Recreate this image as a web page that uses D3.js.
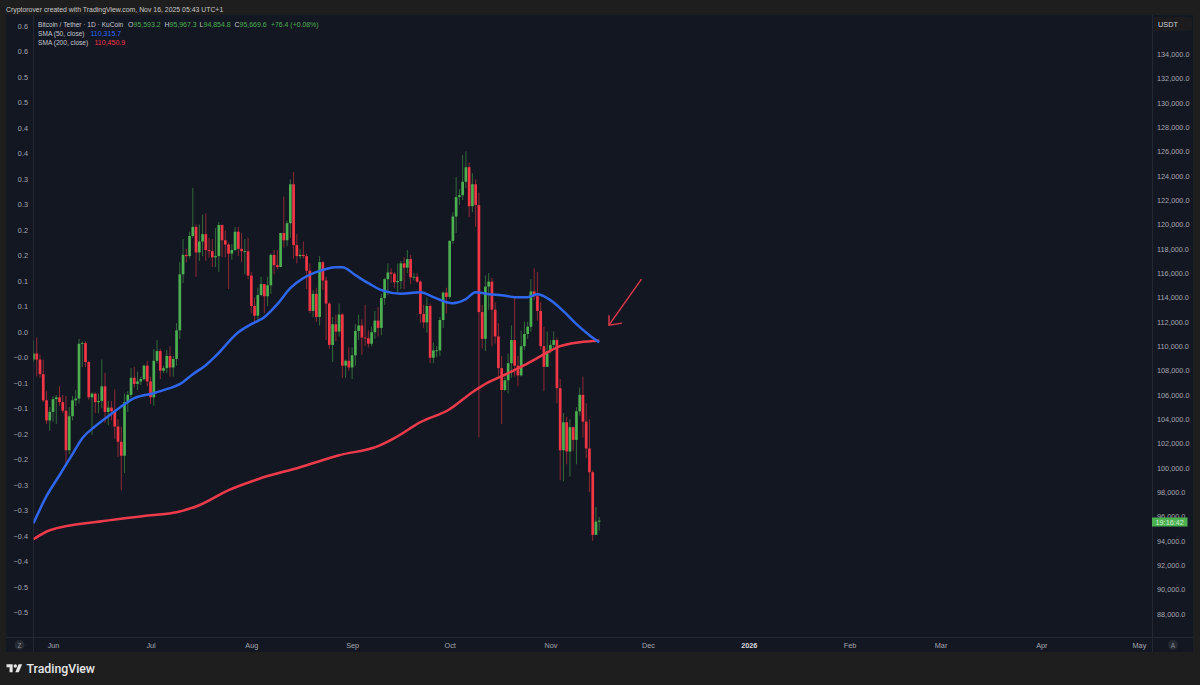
<!DOCTYPE html>
<html>
<head>
<meta charset="utf-8">
<script src="https://cdn.jsdelivr.net/npm/d3@7"></script>
<style>
  html, body { margin: 0; background: #1e1e1e; }
  svg { display: block; }
  text { font-family: "Liberation Sans", sans-serif; }
</style>
</head>
<body>
<div id="chart-container"></div>
<script>
// First candle is May 26 2025, one candle per day
const firstDay = new Date(Date.UTC(2025, 4, 26));

const opens = [
  108900,109400,108900,107700,105550,103900,
  104600,105650,105800,105400,104700,101450,104250,105550,105700,110200,110250,108700,105800,106100,105400,105500,106700,104600,104950,104650,103400,102150,101000,105400,106000,107400,106900,107100,107300,108400,
  107100,105800,108800,109600,107990,108200,109200,108250,108950,111300,115900,117500,117400,119050,119800,117700,118600,119200,117900,117800,117300,117400,119950,118700,118350,117600,117900,119400,118000,117800,117800,
  115800,113300,112500,114200,115100,114100,115000,117500,116650,116500,119300,118700,120100,123300,118300,117400,117500,117400,116200,112900,114300,112400,116900,115400,113500,110100,111800,111200,112600,108400,108800,
  108250,109250,111250,111700,110700,110650,110200,111150,112100,111500,113950,115500,116050,115950,115250,115350,116800,116450,117150,115650,115700,115300,112650,111950,113300,109050,109650,109650,112150,114400,
  114050,118650,120650,122250,122400,123500,124700,121500,123300,121600,112800,110600,114900,115300,113000,110800,108200,106400,107200,108600,110500,108400,107600,110000,111000,111600,114500,114100,112900,110000,108300,
  109600,110100,110500,106550,101450,103750,101350,103350,102300,104650,106000,103800,101600,99650,94500,95593
];
const closes = [
  109400,108900,107700,105550,103900,104600,
  105650,105800,105400,104700,101450,104250,105550,105700,110200,110250,108700,105800,106100,105400,105500,106700,104600,104950,104650,103400,102150,101000,105400,106000,107400,106900,107100,107300,108400,107100,
  105800,108800,109600,107990,108200,109200,108250,108950,111300,115900,117500,117400,119050,119800,117700,118600,119200,117900,117800,117300,117400,119950,118700,118350,117600,117900,119400,118000,117800,117800,115800,
  113300,112500,114200,115100,114100,115000,117500,116650,116500,119300,118700,120100,123300,118300,117400,117500,117400,116200,112900,114300,112400,116900,115400,113500,110100,111800,111200,112600,108400,108800,108250,
  109250,111250,111700,110700,110650,110200,111150,112100,111500,113950,115500,116050,115950,115250,115350,116800,116450,117150,115650,115700,115300,112650,111950,113300,109050,109650,109650,112150,114400,114050,
  118650,120650,122250,122400,123500,124700,121500,123300,121600,112800,110600,114900,115300,113000,110800,108200,106400,107200,108600,110500,108400,107600,110000,111000,111600,114500,114100,112900,110000,108300,109600,
  110100,110500,106550,101450,103750,101350,103350,102300,104650,106000,103800,101600,99650,94500,95593,95670
];
const highs = [
  110400,110700,109300,108900,106300,105000,
  105900,106000,106700,106000,105900,105000,105900,106400,110600,110400,110400,108800,106200,106200,106100,108900,107800,105500,105500,106450,104000,103400,106100,106300,108200,108300,107900,107500,108500,108800,
  107500,109750,110500,109800,108400,109700,110000,109200,111900,116900,118800,118000,119400,123000,120000,120000,120800,120900,118900,118800,119700,120200,120000,119500,118500,118400,119800,119800,119300,118800,118900,
  116100,114000,114800,115700,115100,115700,117600,117900,117900,119300,122300,120300,123700,124300,119200,118000,118600,117600,116800,114600,114800,117400,117000,115700,113600,112400,112600,113500,112700,108900,109900,
  109900,111800,112600,112200,113400,111300,111600,112900,113200,114300,115600,116800,116400,116100,116800,117000,117300,117900,117500,116000,116000,115400,113400,114000,113500,110300,110000,112400,114500,114800,
  118700,121000,123900,122900,125700,126000,125100,124200,123700,122600,113400,115800,116000,115600,113600,111900,109200,107500,109400,111700,114000,109200,111300,112000,112000,115500,116400,116100,113600,111600,111200,
  110500,111200,110700,107300,104500,104200,104000,103400,105000,106600,107500,105300,104000,99800,96800,95967
];
const lows = [
  108700,107500,107400,105400,103600,103050,
  103800,103600,105100,104500,100400,101100,103900,105100,105300,108300,108300,105600,102700,104500,104500,104900,103700,103500,103900,102400,100900,98150,99600,104600,105800,106600,106400,106800,107200,106700,
  105250,105100,108600,107300,107800,107800,107500,107500,108400,110600,115200,116900,117200,118900,115700,117000,117400,117000,117300,116500,116500,116100,117300,117300,114700,117100,117800,117400,116900,115900,115500,
  112700,112000,111900,114100,112700,113300,114300,115900,116300,116500,118100,118200,118900,117200,116800,117200,117200,114700,112700,112400,112000,111700,114600,110500,109800,108700,110400,110800,107400,107400,108000,
  107300,108400,110500,109300,110000,109900,110000,110600,110800,110900,113400,114200,115200,114800,114400,114700,114700,116000,115100,115400,115200,111900,111500,111100,108600,108600,109100,109200,111500,112700,
  113900,118400,119300,121600,122000,123000,120600,121000,119800,102500,109800,109600,113000,110000,110200,107500,103600,106300,106100,107400,107500,106700,107500,109700,110600,111200,113800,112100,109700,106300,108300,
  109400,109700,105300,99000,98900,100300,99300,101400,100300,104300,102500,100800,98000,94000,94900,94854
];

// SMA lines: candle index and price
const sma50Days = [0,4,8,12,15,19,23,28,31,37,41,45,49,53,56,63,67,71,75,79,83,87,93,95,99,103,107,113,119,123,127,129,133,136,140,144,148,152,155,159,163,167,171,174];
const sma50 = [95456,97675,99400,101126,102440,103426,104248,105234,105727,106138,106467,106877,107699,108439,109178,111150,111808,112383,113451,114766,115588,116081,116492,116492,115834,115177,114602,114314,114437,114026,113615,113533,113862,114437,114273,114191,114026,114026,114273,113780,112876,111808,110904,110316];
const sma200Days = [0,5,21,36,44,51,60,69,82,94,106,111,119,128,135,140,144,151,156,162,168,174];
const sma200 = [94141,94880,95620,96113,96360,96935,98167,99071,100057,101044,101783,102440,103755,104823,106220,107042,107535,108439,109178,110000,110329,110451];

// hand drawn arrow, candle index and price
const arrowDays = [187, 177.7];
const arrowPrices = [115505, 111726];
const arrowHeadDays = [177.1, 177.7, 181.4];
const arrowHeadPrices = [112547, 111726, 111890];

const monthTicks = [
  [Date.UTC(2025, 5, 1), "Jun"], [Date.UTC(2025, 6, 1), "Jul"], [Date.UTC(2025, 7, 1), "Aug"],
  [Date.UTC(2025, 8, 1), "Sep"], [Date.UTC(2025, 9, 1), "Oct"], [Date.UTC(2025, 10, 1), "Nov"],
  [Date.UTC(2025, 11, 1), "Dec"], [Date.UTC(2026, 0, 1), "2026"], [Date.UTC(2026, 1, 1), "Feb"],
  [Date.UTC(2026, 2, 1), "Mar"], [Date.UTC(2026, 3, 1), "Apr"], [Date.UTC(2026, 4, 1), "May"]
];
const priceTicks = d3.range(88000, 136000, 2000);
const leftTicks = [0.6,0.55,0.5,0.45,0.4,0.35,0.3,0.25,0.2,0.15,0.1,0.05,0,-0.05,-0.1,-0.15,-0.2,-0.25,-0.3,-0.35,-0.4,-0.45,-0.5,-0.55];
const leftLabels = ["0.6","0.6","0.5","0.5","0.4","0.4","0.3","0.3","0.2","0.2","0.1","0.1","0.0","\u22120.0","\u22120.1","\u22120.1","\u22120.2","\u22120.2","\u22120.3","\u22120.3","\u22120.4","\u22120.4","\u22120.5","\u22120.5"];

const width = 1200;
const height = 685;
const panel = { left: 6, right: 1193, top: 15, bottom: 652 };
const plot = { left: 33.5, right: 1152.5, bottom: 637.5 };

const upColor = "#4caf50";
const downColor = "#f23645";
const axisColor = "#a3a6af";

const svg = d3.select("#chart-container")
    .append("svg")
    .attr("width", width)
    .attr("height", height);

svg.append("rect")
    .attr("width", width)
    .attr("height", height)
    .attr("fill", "#1e1e1e");

svg.append("text")
    .attr("x", 6)
    .attr("y", 12)
    .attr("fill", "#c9c9c9")
    .attr("font-size", 6.9)
    .text("Cryptorover created with TradingView.com, Nov 16, 2025 05:43 UTC+1");

svg.append("rect")
    .attr("x", panel.left)
    .attr("y", panel.top)
    .attr("width", panel.right - panel.left)
    .attr("height", panel.bottom - panel.top)
    .attr("fill", "#131722");

// Scales
const x = d3.scaleUtc()
    .domain([Date.UTC(2025, 5, 1), Date.UTC(2026, 4, 1)])
    .range([53, 1138.9]);
const y = d3.scaleLinear().domain([134000, 88000]).range([54, 614]);
const yLeft = d3.scaleLinear().domain([0.6, -0.55]).range([26, 612.5]);

const dayX = i => x(d3.utcDay.offset(firstDay, i));

svg.append("defs").append("clipPath")
    .attr("id", "plot-clip")
    .append("rect")
    .attr("x", plot.left)
    .attr("y", panel.top)
    .attr("width", plot.right - plot.left)
    .attr("height", plot.bottom - panel.top);

// Panel dividers
const lineColor = "#242833";
svg.append("line").attr("x1", plot.left).attr("x2", plot.left).attr("y1", panel.top).attr("y2", panel.bottom).attr("stroke", lineColor);
svg.append("line").attr("x1", plot.right).attr("x2", plot.right).attr("y1", panel.top).attr("y2", panel.bottom).attr("stroke", lineColor);
svg.append("line").attr("x1", panel.left).attr("x2", panel.right).attr("y1", plot.bottom).attr("y2", plot.bottom).attr("stroke", lineColor);

const chart = svg.append("g").attr("clip-path", "url(#plot-clip)");

// Candles
const candles = chart.selectAll(".candle")
    .data(opens.map((o, i) => i))
    .enter()
    .append("g")
    .attr("class", "candle");

candles.append("line")
    .attr("x1", i => dayX(i))
    .attr("x2", i => dayX(i))
    .attr("y1", i => y(highs[i]))
    .attr("y2", i => y(lows[i]))
    .attr("stroke", i => closes[i] >= opens[i] ? upColor : downColor)
    .attr("stroke-width", 1)
    .attr("stroke-opacity", 0.55);

candles.append("rect")
    .attr("x", i => dayX(i) - 1.35)
    .attr("width", 2.7)
    .attr("y", i => y(Math.max(opens[i], closes[i])))
    .attr("height", i => Math.max(0.8, Math.abs(y(opens[i]) - y(closes[i]))))
    .attr("fill", i => closes[i] >= opens[i] ? upColor : downColor);

// Moving averages
const smaLine = d3.line()
    .x(d => dayX(d[0]))
    .y(d => y(d[1]))
    .curve(d3.curveMonotoneX);

chart.append("path")
    .attr("d", smaLine(d3.zip(sma200Days, sma200)))
    .attr("fill", "none")
    .attr("stroke", "#ee3b4b")
    .attr("stroke-width", 2.5);

chart.append("path")
    .attr("d", smaLine(d3.zip(sma50Days, sma50)))
    .attr("fill", "none")
    .attr("stroke", "#2f66ee")
    .attr("stroke-width", 2.5);

// Arrow annotation
const arrowLine = d3.line().x(d => dayX(d[0])).y(d => y(d[1]));
[d3.zip(arrowDays, arrowPrices), d3.zip(arrowHeadDays, arrowHeadPrices)].forEach(pts => {
    chart.append("path")
        .attr("d", arrowLine(pts))
        .attr("fill", "none")
        .attr("stroke", "#e0394a")
        .attr("stroke-width", 1.4);
});

// Axes
const styleAxis = g => {
    g.select(".domain").remove();
    g.selectAll("text").attr("fill", axisColor).attr("font-size", 7.3);
};

svg.append("g")
    .attr("transform", `translate(28,0)`)
    .call(d3.axisLeft(yLeft).tickValues(leftTicks).tickSize(0).tickPadding(0)
        .tickFormat((d, i) => leftLabels[i]))
    .call(styleAxis);

svg.append("g")
    .attr("transform", `translate(1157,0)`)
    .call(d3.axisRight(y).tickValues(priceTicks).tickSize(0).tickPadding(0)
        .tickFormat(d3.format(",.1f")))
    .call(styleAxis);

svg.append("g")
    .attr("transform", `translate(0,645)`)
    .call(d3.axisBottom(x)
        .tickValues(monthTicks.map(d => d[0]))
        .tickSize(0)
        .tickPadding(0)
        .tickFormat((d, i) => monthTicks[i][1]))
    .call(g => {
        styleAxis(g);
        g.selectAll("text")
            .attr("dy", "0.35em")
            .attr("y", 0)
            .attr("font-weight", (d, i) => monthTicks[i][1] === "2026" ? "bold" : null)
            .attr("fill", (d, i) => monthTicks[i][1] === "2026" ? "#d5d6da" : axisColor);
    });

// Legend lines
const legend = svg.append("g");
const legendLines = [
    [[38, "Bitcoin / Tether \u00b7 1D \u00b7 KuCoin", "#c3c6cd", 6.6], [128, "O", "#c3c6cd", 7], [133.5, "95,593.2", upColor, 7],
     [164.5, "H", "#c3c6cd", 7], [169.5, "95,967.3", upColor, 7], [199.5, "L", "#c3c6cd", 7], [203.5, "94,854.8", upColor, 7],
     [234.5, "C", "#c3c6cd", 7], [239.5, "95,669.6", upColor, 7], [271, "+76.4 (+0.08%)", upColor, 6.9]],
    [[38, "SMA (50, close)", "#c3c6cd", 6.6], [90.5, "110,315.7", "#2f66ee", 7]],
    [[38, "SMA (200, close)", "#c3c6cd", 6.6], [94.5, "110,450.9", "#f23645", 7]]
];
legendLines.forEach((items, row) => {
    items.forEach(item => {
        legend.append("text")
            .attr("x", item[0])
            .attr("y", 27 + row * 9.2)
            .attr("fill", item[2])
            .attr("font-size", item[3])
            .text(item[1]);
    });
});

// Currency box
svg.append("rect").attr("x", 1154).attr("y", 17).attr("width", 38).attr("height", 14).attr("rx", 2).attr("fill", "#1c1c1f");
svg.append("text").attr("x", 1158).attr("y", 26.5).attr("fill", "#d1d4dc").attr("font-size", 7.3).text("USDT");

// Countdown tag
svg.append("rect").attr("x", 1152).attr("y", 517.5).attr("width", 35.5).attr("height", 9).attr("fill", upColor);
svg.append("text").attr("x", 1169.7).attr("y", 525).attr("text-anchor", "middle").attr("fill", "#cdeccd").attr("font-size", 7.3).text("19:16:42");

// Z and A buttons
[[19.5, "Z"], [1173, "A"]].forEach(b => {
    svg.append("circle").attr("cx", b[0]).attr("cy", 645).attr("r", 5).attr("fill", "#262a33");
    svg.append("text").attr("x", b[0]).attr("y", 647.5).attr("text-anchor", "middle").attr("fill", "#8a8d96").attr("font-size", 6.5).text(b[1]);
});

// TradingView logo
const logo = svg.append("g").attr("transform", "translate(6.5,662.5) scale(0.44)").attr("fill", "#e6e6e6");
logo.append("path").attr("d", "M14 22H7V11H0V4h14v18zM28 22h-8l7.5-18h8L28 22z");
logo.append("circle").attr("cx", 20).attr("cy", 8).attr("r", 4);
svg.append("text")
    .attr("x", 26.5)
    .attr("y", 672.5)
    .attr("fill", "#e6e6e6")
    .attr("font-size", 12.3)
    .attr("font-weight", 500)
    .style("font-family", "Roboto, sans-serif")
    .text("TradingView");
</script>
</body>
</html>
